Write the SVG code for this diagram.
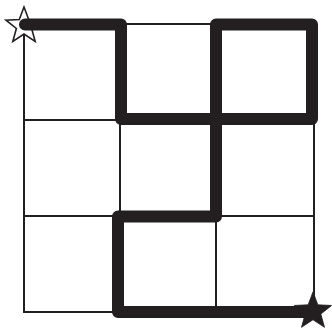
<svg xmlns="http://www.w3.org/2000/svg" xmlns:xlink="http://www.w3.org/1999/xlink" width="332" height="330" viewBox="0 0 332 330">
<style>
.grid{stroke:#231f20;stroke-width:2;fill:none;stroke-linecap:square}
.thick{stroke:#231f20;stroke-width:12;fill:none;stroke-linejoin:round;stroke-linecap:round}
</style>
<defs>
<polygon id="star" points="0,-19 4.7,-6.47 18.07,-5.87 7.61,2.47 11.17,15.37 0,8 -11.17,15.37 -7.61,2.47 -18.07,-5.87 -4.7,-6.47" stroke-linejoin="miter"/>
</defs>
<rect width="332" height="330" fill="#ffffff"/>
<g id="grid" class="grid">
<line x1="24" y1="24" x2="314" y2="24"/>
<line x1="24" y1="120" x2="314" y2="120"/>
<line x1="24" y1="216" x2="314" y2="216"/>
<line x1="24" y1="312" x2="314" y2="312"/>
<line x1="24" y1="24" x2="24" y2="312"/>
<line x1="120" y1="24" x2="120" y2="312"/>
<line x1="216" y1="24" x2="216" y2="312"/>
<line x1="314" y1="24" x2="314" y2="312"/>
</g>
<g id="start">
<use xlink:href="#star" href="#star" transform="translate(24,26)" fill="#ffffff" stroke="#231f20" stroke-width="1.6"/>
</g>
<g id="connectors">
<path class="thick" d="M25 24.5 H121 V119 H216 V216.5 H118 V312 H313"/>
<rect class="thick" x="216" y="24.5" width="96" height="94.5"/>
</g>
<g id="end">
<use xlink:href="#star" href="#star" transform="translate(313,311.5) scale(1.03)" fill="#231f20" stroke="#231f20" stroke-width="0.8"/>
</g>
</svg>
